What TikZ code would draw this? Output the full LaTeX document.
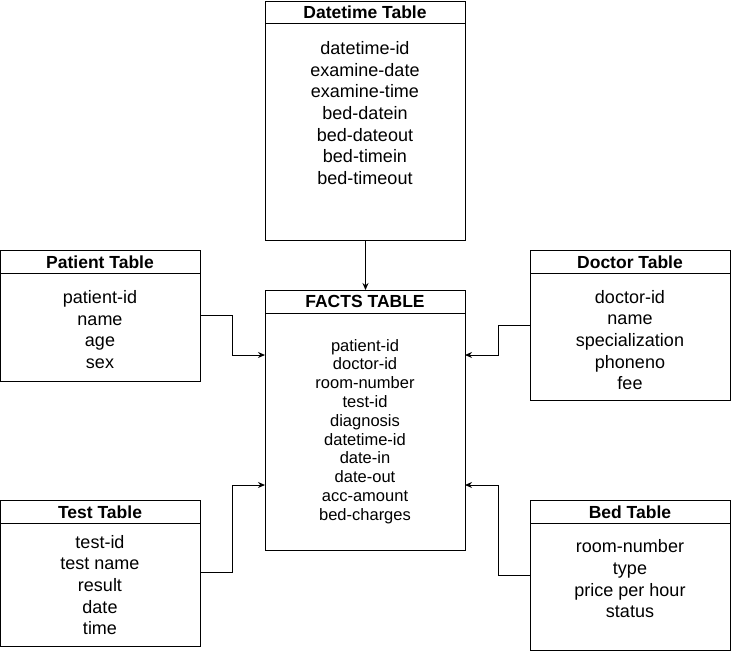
\documentclass[tikz,border=0pt]{standalone}
\usepackage{fontspec}
\setmainfont{Liberation Sans}
\usetikzlibrary{arrows.meta}
\begin{document}
\begin{tikzpicture}[x=1pt,y=-1pt,
  tbl/.style={draw=black, line width=1pt, anchor=north west, inner sep=0pt, minimum width=200pt},
  hdr/.style={font=\fontsize{17.5}{20}\selectfont\bfseries, inner sep=0pt},
  body/.style={font=\fontsize{18}{21.7}\selectfont, align=center, inner sep=0pt},
  fbody/.style={font=\fontsize{16.5}{18.8}\selectfont, align=center, inner sep=0pt},
  conn/.style={line width=1pt, -{Stealth[length=7pt,width=6pt]}},
  plain/.style={line width=1pt}]
\useasboundingbox (0,0) rectangle (732,651);
% Datetime
\node[tbl, minimum height=239pt] (dt) at (265,1) {};
\draw[plain] (265,23.3) -- (465,23.3);
\node[hdr] (dth) at (365,12) {Datetime Table};
\node[body] (dtb) at (365,113) {datetime-id\\examine-date\\examine-time\\bed-datein\\bed-dateout\\bed-timein\\bed-timeout};
% Facts
\node[tbl, minimum height=260pt] (ft) at (265,290) {};
\draw[plain] (265,313) -- (465,313);
\node[hdr] (fth) at (365,301) {FACTS TABLE};
\node[fbody] (ftb) at (365,431.5) {patient-id\\doctor-id\\room-number\\test-id\\diagnosis\\datetime-id\\date-in\\date-out\\acc-amount\\bed-charges};
% Patient
\node[tbl, minimum height=131pt] (pt) at (0,250) {};
\draw[plain] (0,273) -- (200,273);
\node[hdr] (pth) at (100,262) {Patient Table};
\node[body] (ptb) at (100,329.5) {patient-id\\name\\age\\sex};
% Doctor
\node[tbl, minimum height=150pt] (doc) at (530,250) {};
\draw[plain] (530,273) -- (730,273);
\node[hdr] (doch) at (630,262) {Doctor Table};
\node[body] (docb) at (630,340) {doctor-id\\name\\specialization\\phoneno\\fee};
% Test
\node[tbl, minimum height=146pt] (ts) at (0,500) {};
\draw[plain] (0,523) -- (200,523);
\node[hdr] (tsh) at (100,512) {Test Table};
\node[body] (tsb) at (100,585) {test-id\\test name\\result\\date\\time};
% Bed
\node[tbl, minimum height=150pt] (bd) at (530,500) {};
\draw[plain] (530,523) -- (730,523);
\node[hdr] (bdh) at (630,512) {Bed Table};
\node[body] (bdb) at (630,579) {room-number\\type\\price per hour\\status};
% connectors
\coordinate (pA) at (200,315.7);
\coordinate (fL1) at (265,355);
\draw[conn] (pA) -- (232.5,315.7) -- (232.5,355) -- (fL1);
\coordinate (dA) at (530,325);
\coordinate (fR1) at (465,355);
\draw[conn] (dA) -- (498.3,325) -- (498.3,355) -- (fR1);
\coordinate (tA) at (200,572.5);
\coordinate (fL2) at (265,485);
\draw[conn] (tA) -- (232.5,572.5) -- (232.5,485) -- (fL2);
\coordinate (bA) at (530,575);
\coordinate (fR2) at (465,485);
\draw[conn] (bA) -- (498.3,575) -- (498.3,485) -- (fR2);
\draw[conn] (dt.south) -- (ft.north);
\end{tikzpicture}
\end{document}
